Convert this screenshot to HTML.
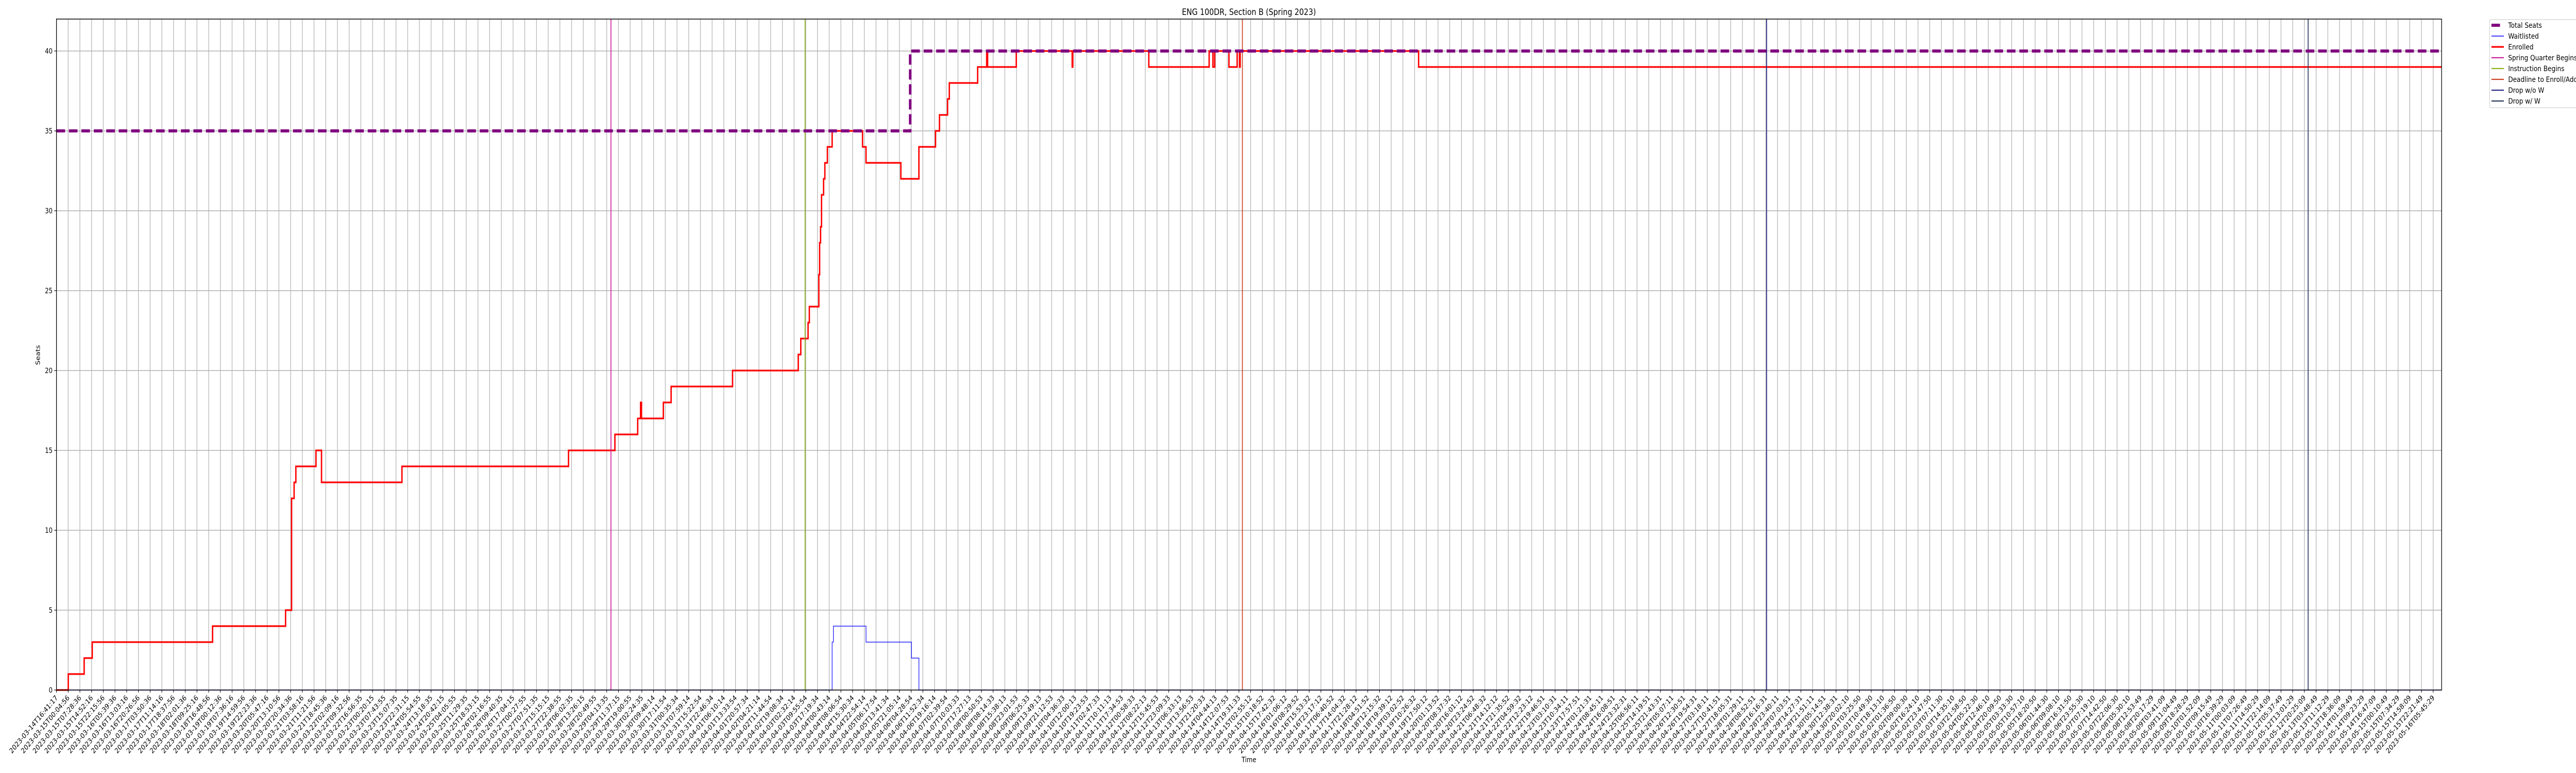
<!DOCTYPE html>
<html><head><meta charset="utf-8"><meta name="viewport" content="width=6000, initial-scale=1"><title>ENG 100DR, Section B (Spring 2023)</title>
<style>html,body{margin:0;padding:0;background:#fff;width:100vw;height:100vh;overflow:hidden}svg{display:block;width:100vw;height:100vh;overflow:hidden;font-family:"DejaVu Sans","Liberation Sans",sans-serif}</style>
</head><body>
<svg id="chart" viewBox="0 0 6000 1500" preserveAspectRatio="none" xmlns="http://www.w3.org/2000/svg">
<rect width="6000" height="1500" fill="#fff"/>
<text x="2909" y="29" font-size="17" text-anchor="middle" fill="#000">ENG 100DR, Section B (Spring 2023)</text>
<text x="0" y="0" font-size="14" text-anchor="middle" fill="#000" transform="translate(93,689) rotate(-90)">Seats</text>
<text x="2909" y="1479" font-size="14" text-anchor="middle" fill="#000">Time</text>
<g id="grid"></g>
<g id="series"></g>
<g id="axes"></g>
<g id="legend"></g>
</svg>
<script>
// ---- data (hours since 2023-03-14T16:41:17) ----
const startISO = "2023-03-14T16:41:17Z";
const tickSpanHours = 1501.07;
const tickCount = 204;
const xMaxHours = 1506.4;
const yTicks = [0, 5, 10, 15, 20, 25, 30, 35, 40];
const enrolledHours = [0, 7.46, 17.5, 22.6, 98.6, 144.7, 148.5, 150.1, 151.2, 163.9, 167.4, 218.2, 323.4, 352.7, 367.1, 368.9, 369.5, 383.3, 388.2, 427.0, 468.5, 470.1, 474.7, 475.5, 481.5, 482.0, 482.6, 483.2, 484.5, 485.3, 486.9, 489.9, 509.1, 511.3, 533.3, 544.7, 555.2, 557.7, 562.8, 563.9, 581.8, 587.5, 588.1, 606.2, 641.5, 641.9, 689.9, 728.0, 730.4, 731.5, 740.5, 745.7, 747.2, 747.6, 860.3];
const enrolledValues = [0, 1, 2, 3, 4, 5, 12, 13, 14, 15, 13, 14, 15, 16, 17, 18, 17, 18, 19, 20, 21, 22, 23, 24, 26, 28, 29, 31, 32, 33, 34, 35, 34, 33, 32, 34, 35, 36, 37, 38, 39, 40, 39, 40, 39, 40, 39, 40, 39, 40, 39, 40, 39, 40, 39];
const waitHours = [0, 489.9, 490.7, 511.3, 540.0, 544.7];
const waitValues = [0, 3, 4, 3, 2, 0];
const seatHours = [0, 539.2];
const seatValues = [35, 40];
const eventNames = ["Spring Quarter Begins", "Instruction Begins", "Deadline to Enroll/Add", "Drop w/o W", "Drop w/ W"];
const eventHours = [350.2, 472.8, 749.0, 1080.1, 1422.1];
const eventColors = ["#d0209a", "#8db41c", "#cc4422", "#2a2a88", "#2c3c5e"];

// ---- layout ----
const NS = "http://www.w3.org/2000/svg";
const L = 131.5, R = 5687, T = 37, B = 1339, YMAX = 42;
const xs = h => L + (h / xMaxHours) * (R - L);
const ys = v => B - (v / YMAX) * (B - T);
function mk(tag, attrs, parent) {
  const e = document.createElementNS(NS, tag);
  for (const k in attrs) e.setAttribute(k, attrs[k]);
  parent.appendChild(e);
  return e;
}
const grid = document.getElementById('grid');
const series = document.getElementById('series');
const axes = document.getElementById('axes');
const legend = document.getElementById('legend');
const t0 = Date.parse(startISO);
const pad = n => String(n).padStart(2, '0');
function fmt(ms) {
  const d = new Date(ms);
  return d.getUTCFullYear() + '-' + pad(d.getUTCMonth() + 1) + '-' + pad(d.getUTCDate()) + 'T' + pad(d.getUTCHours()) + ':' + pad(d.getUTCMinutes()) + ':' + pad(d.getUTCSeconds());
}
for (let i = 0; i < tickCount; i++) {
  const h = i * tickSpanHours / (tickCount - 1);
  const x = xs(h);
  const g = mk('line', {x1: x, x2: x, y1: T, y2: B, stroke: '#b0b0b0', 'stroke-width': 1.4}, grid);
  
  
  const tk = mk('line', {x1: x, x2: x, y1: B, y2: B + 5, stroke: '#000', 'stroke-width': 1.2}, axes);
  
  
  const lb = mk('text', {x: 0, y: 0, 'font-size': 14, 'text-anchor': 'end', fill: '#000', transform: 'translate(' + (x + 4) + ',' + (B + 16) + ') rotate(-45)'}, axes);
  lb.textContent = fmt(t0 + h * 3600000);
  
  
}
yTicks.forEach(v => {
  const y = ys(v);
  const g = mk('line', {x1: L, x2: R, y1: y, y2: y, stroke: '#b0b0b0', 'stroke-width': 1.4}, grid);
  
  
  const tk = mk('line', {x1: L - 5, x2: L, y1: y, y2: y, stroke: '#000', 'stroke-width': 1.2}, axes);
  
  
  const lb = mk('text', {x: L - 9, y: y + 5, 'font-size': 14, 'text-anchor': 'end', fill: '#000'}, axes);
  lb.textContent = v;
  
  
});
function stepPath(hs, vs) {
  let d = 'M' + xs(hs[0]) + ',' + ys(vs[0]);
  for (let i = 1; i < hs.length; i++) d += 'H' + xs(hs[i]) + 'V' + ys(vs[i]);
  d += 'H' + xs(xMaxHours);
  return d;
}
const wp = mk('path', {d: stepPath(waitHours, waitValues), fill: 'none', stroke: '#0000ff', 'stroke-width': 1.6, opacity: 0.85}, series);


const ep = mk('path', {d: stepPath(enrolledHours, enrolledValues), fill: 'none', stroke: '#ff0000', 'stroke-width': 3.2}, series);


eventHours.forEach((h, i) => {
  const x = xs(h);
  const ln = mk('line', {x1: x, x2: x, y1: T, y2: B, stroke: eventColors[i], 'stroke-width': 2}, series);
  
  
});
const sp = mk('path', {d: stepPath(seatHours, seatValues), fill: 'none', stroke: '#800080', 'stroke-width': 6, 'stroke-dasharray': '20 9'}, series);


const fr = mk('rect', {x: L, y: T, width: R - L, height: B - T, fill: 'none', stroke: '#000', 'stroke-width': 1.5}, axes);


const lbox = mk('path', {d: 'M6000,38 H5802 Q5799,38 5799,41 V206 Q5799,209 5802,209 H6000', fill: '#fff', stroke: '#d0d0d0', 'stroke-width': 1.2}, legend);


const legNames = ['Total Seats', 'Waitlisted', 'Enrolled'].concat(eventNames);
const legColors = ['#800080', '#0000ff', '#ff0000'].concat(eventColors);
const legWidths = [6, 1.6, 3.2, 2.2, 2.2, 2.2, 2.2, 2.2];
legNames.forEach((n, i) => {
  const y = 49 + i * 21;
  const ln = mk('line', {x1: 5803, x2: i === 0 ? 5823 : 5832, y1: y, y2: y, stroke: legColors[i], 'stroke-width': legWidths[i]}, legend);
  
  
  const tx = mk('text', {x: 5842, y: y + 5, 'font-size': 14.5, fill: '#000'}, legend);
  tx.textContent = n;
  
  
});
</script>
</body></html>
